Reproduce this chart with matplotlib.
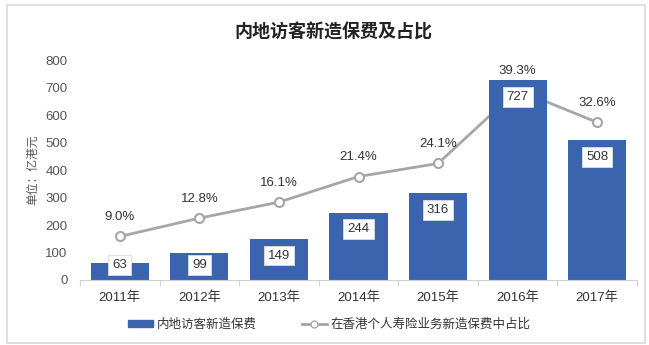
import numpy as np
import matplotlib.pyplot as plt
from matplotlib.patches import Rectangle
from matplotlib.lines import Line2D

plt.rcParams['font.family'] = ['Liberation Sans', 'Noto Sans CJK SC', 'DejaVu Sans']

# data
years = ['2011年', '2012年', '2013年', '2014年', '2015年', '2016年', '2017年']
premium = [63, 99, 149, 244, 316, 727, 508]          # 亿港元
share = [9.0, 12.8, 16.1, 21.4, 24.1, 39.3, 32.6]    # %

bar_color = '#3b64ae'
line_color = '#a6a6a6'
text_color = '#333333'

fig = plt.figure(figsize=(6.49, 3.45), dpi=100)
W, H = 649, 345

# outer frame of the chart
fig.patches.append(Rectangle((7 / W, 2 / H), 638 / W, 338 / H, transform=fig.transFigure,
                             fill=False, edgecolor='#d9d9d9', lw=1.2))

ax = fig.add_axes([80 / W, 1 - 280 / H, 557 / W, 220 / H])
x = np.arange(len(years))

ax.bar(x, premium, width=0.73, color=bar_color, zorder=2)
ax.set_xlim(-0.5, len(years) - 0.5)
ax.set_ylim(0, 800)
ax.set_yticks(range(0, 801, 100))
ax.set_xticks(x)
ax.set_xticklabels(years)
ax.set_xticks(np.arange(-0.5, len(years), 1), minor=True)
ax.tick_params(axis='x', which='major', length=0, labelsize=9.5, labelcolor=text_color, pad=8)
ax.tick_params(axis='x', which='minor', length=4, color='#d0d0d0', width=0.8)
ax.tick_params(axis='y', length=0, labelsize=9.5, labelcolor='#555555', pad=9)
for s in ['top', 'right', 'left']:
    ax.spines[s].set_visible(False)
ax.spines['bottom'].set_color('#d0d0d0')
ax.set_ylabel('单位：亿港元', fontsize=8.5, color='#555555', labelpad=4)

# bar value labels in white boxes
for xi, v in zip(x, premium):
    ax.text(xi, max(v - 60, 55), str(v), ha='center', va='center', fontsize=9.5,
            color=text_color, zorder=10,
            bbox=dict(boxstyle='square,pad=0.3', fc='white', ec='#dddddd', lw=0.6))

# share line on a hidden secondary axis
ax2 = ax.twinx()
ax2.set_ylim(0, 45.5)
ax2.axis('off')
ax2.plot(x, share, color=line_color, lw=2, marker='o', ms=6.5, mfc='white',
         mec=line_color, mew=1.5, zorder=3)
for xi, s in zip(x, share):
    ax2.annotate(f'{s:.1f}%', (xi, s), xytext=(0, 14), textcoords='offset points',
                 ha='center', va='center', fontsize=9.5, color=text_color)
# keep the value boxes above the line
ax.set_zorder(2)
ax.patch.set_visible(False)
ax2.set_zorder(1)

fig.text(0.513, 1 - 33 / H, '内地访客新造保费及占比', ha='center', va='center',
         fontsize=13, fontweight='bold', color='#222222')

handles = [Rectangle((0, 0), 1, 1, color=bar_color),
           Line2D([], [], color=line_color, lw=2, marker='o', ms=5, mfc='white', mec=line_color)]
fig.legend(handles, ['内地访客新造保费', '在香港个人寿险业务新造保费中占比'],
           loc='center', bbox_to_anchor=(0.507, 1 - 325 / H), ncol=2, frameon=False,
           fontsize=9, handlelength=2.0, handleheight=0.5, columnspacing=3.6,
           handletextpad=0.3, labelcolor=text_color)

fig.savefig('out.png', dpi=100, facecolor='white')
